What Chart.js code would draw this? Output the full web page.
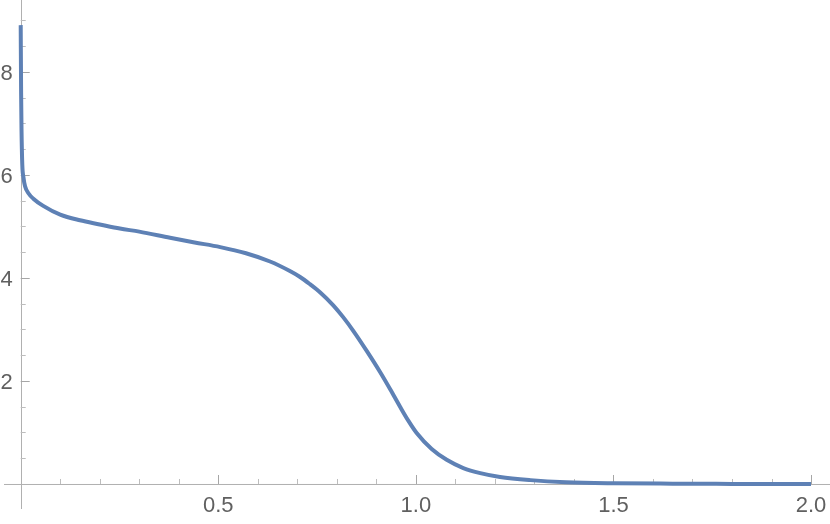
<!DOCTYPE html>
<html lang="en">
<head>
<meta charset="UTF-8">
<title>Curve</title>
<script src="https://cdn.jsdelivr.net/npm/chart.js"></script>
<style>
  html, body { margin: 0; padding: 0; background: #fff; }
  canvas { display: block; }
</style>
</head>
<body>
<canvas id="myChart" width="830" height="524"></canvas>
<script>
// curve values
const xValues = [0, 0.001, 0.002, 0.004, 0.007, 0.011, 0.02, 0.032, 0.057, 0.1, 0.15, 0.2, 0.251, 0.3, 0.378, 0.44, 0.505, 0.57, 0.631, 0.68, 0.707, 0.732, 0.758, 0.791, 0.816, 0.842, 0.876, 0.909, 0.935, 0.96, 0.98, 1.002, 1.04, 1.078, 1.12, 1.163, 1.213, 1.29, 1.38, 1.5, 1.65, 1.8, 2.0];
const yValues = [8.91, 7.6, 6.9, 6.2, 5.95, 5.78, 5.64, 5.54, 5.4, 5.23, 5.12, 5.04, 4.96, 4.9, 4.78, 4.69, 4.6, 4.48, 4.32, 4.14, 4.02, 3.88, 3.72, 3.47, 3.24, 2.97, 2.58, 2.18, 1.84, 1.5, 1.24, 0.99, 0.68, 0.47, 0.31, 0.21, 0.135, 0.075, 0.035, 0.015, 0.006, 0.002, 0.0];

// axis ticks
const xMajorTicks = [0.5, 1.0, 1.5, 2.0];
const xTickLabels = ['0.5', '1.0', '1.5', '2.0'];
const xMinorTicks = [0.1, 0.2, 0.3, 0.4, 0.6, 0.7, 0.8, 0.9, 1.1, 1.2, 1.3, 1.4, 1.6, 1.7, 1.8, 1.9];
const yMajorTicks = [2, 4, 6, 8];
const yTickLabels = ['2', '4', '6', '8'];
const yMinorTicks = [0.5, 1, 1.5, 2.5, 3, 3.5, 4.5, 5, 5.5, 6.5, 7, 7.5, 8.5, 9];

const points = xValues.map((x, i) => ({ x: x, y: yValues[i] }));

// Mathematica style axes crossing at the origin, ticks pointing inward
const axesPlugin = {
  id: 'originAxes',
  beforeDatasetsDraw(chart) {
    const ctx = chart.ctx;
    const xs = chart.scales.x;
    const ys = chart.scales.y;
    const x0 = xs.getPixelForValue(0);
    const y0 = ys.getPixelForValue(0);
    ctx.save();
    ctx.lineWidth = 1;
    ctx.strokeStyle = '#b0b0b0';
    ctx.beginPath();
    ctx.moveTo(4, y0 + 0.5);
    ctx.lineTo(830, y0 + 0.5);
    ctx.moveTo(Math.round(x0) + 0.5, 0);
    ctx.lineTo(Math.round(x0) + 0.5, 509);
    ctx.stroke();

    // minor ticks
    ctx.strokeStyle = '#bdbdbd';
    ctx.beginPath();
    xMinorTicks.forEach(v => {
      const px = Math.round(xs.getPixelForValue(v)) + 0.5;
      ctx.moveTo(px, y0);
      ctx.lineTo(px, y0 - 5);
    });
    yMinorTicks.forEach(v => {
      const py = Math.round(ys.getPixelForValue(v)) + 0.5;
      ctx.moveTo(x0, py);
      ctx.lineTo(x0 + 5, py);
    });
    ctx.stroke();

    // major ticks
    ctx.strokeStyle = '#a6a6a6';
    ctx.beginPath();
    xMajorTicks.forEach(v => {
      const px = Math.round(xs.getPixelForValue(v)) + 0.5;
      ctx.moveTo(px, y0);
      ctx.lineTo(px, y0 - 9);
    });
    yMajorTicks.forEach(v => {
      const py = Math.round(ys.getPixelForValue(v)) + 0.5;
      ctx.moveTo(x0, py);
      ctx.lineTo(x0 + 9, py);
    });
    ctx.stroke();

    // labels
    ctx.fillStyle = '#606060';
    ctx.font = '22px "Liberation Sans", Arial, sans-serif';
    ctx.textBaseline = 'alphabetic';
    ctx.textAlign = 'center';
    xMajorTicks.forEach((v, i) => {
      ctx.fillText(xTickLabels[i], xs.getPixelForValue(v), y0 + 28);
    });
    ctx.textAlign = 'right';
    yMajorTicks.forEach((v, i) => {
      ctx.fillText(yTickLabels[i], x0 - 8, ys.getPixelForValue(v) + 8);
    });
    ctx.restore();
  }
};

const ctx = document.getElementById('myChart').getContext('2d');
new Chart(ctx, {
  type: 'line',
  data: {
    datasets: [{
      data: points,
      borderColor: '#5e81b5',
      borderWidth: 4,
      borderCapStyle: 'butt',
      pointRadius: 0,
      fill: false,
      cubicInterpolationMode: 'monotone'
    }]
  },
  options: {
    responsive: false,
    animation: false,
    layout: { padding: 0 },
    plugins: { legend: { display: false }, tooltip: { enabled: false } },
    scales: {
      x: { type: 'linear', display: false, min: -0.0524, max: 2.048 },
      y: { type: 'linear', display: false, min: -0.777, max: 9.398 }
    }
  },
  plugins: [axesPlugin]
});
</script>
</body>
</html>
